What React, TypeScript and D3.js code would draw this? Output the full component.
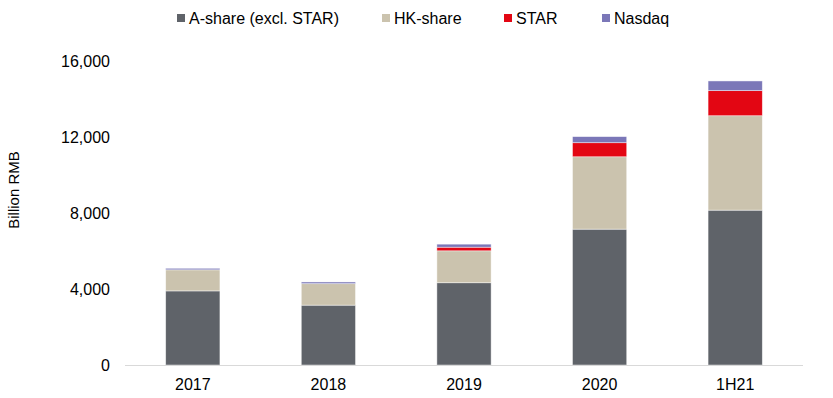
import React, { useEffect, useRef } from 'react';
import * as d3 from 'd3';

const categories = ['2017', '2018', '2019', '2020', '1H21'];
const seriesNames = ['A-share (excl. STAR)', 'HK-share', 'STAR', 'Nasdaq'];
const aShare = [3900, 3150, 4330, 7150, 8150];
const hkShare = [1110, 1130, 1680, 3810, 4970];
const star = [0, 0, 190, 740, 1320];
const nasdaq = [80, 90, 160, 320, 510];
const yTicks = [0, 4000, 8000, 12000, 16000];
const colors = ['#5f6369', '#cbc3ae', '#e30613', '#7b77b8'];

const W = 833;
const H = 398;

const App = () => {
	const ref = useRef<SVGSVGElement>(null);

	useEffect(() => {
		const svg = d3.select(ref.current);
		svg.selectAll('*').remove();
		const font = 'Arial, "Liberation Sans", sans-serif';

		const rows = categories.map((c, i) => ({
			cat: c,
			[seriesNames[0]]: aShare[i],
			[seriesNames[1]]: hkShare[i],
			[seriesNames[2]]: star[i],
			[seriesNames[3]]: nasdaq[i],
		}));
		const stacked = d3.stack<any>().keys(seriesNames)(rows);

		const x = d3.scaleBand().domain(categories).range([125, 803]).paddingInner(0.6).paddingOuter(0.3);
		const y = d3.scaleLinear().domain([0, 16000]).range([365, 61]);

		// y tick labels
		svg
			.append('g')
			.selectAll('text')
			.data(yTicks)
			.enter()
			.append('text')
			.attr('x', 110)
			.attr('y', (d) => y(d))
			.attr('dy', '0.35em')
			.attr('text-anchor', 'end')
			.attr('font-family', font)
			.attr('font-size', 16)
			.attr('fill', '#000')
			.text((d) => d3.format(',')(d));

		svg
			.append('text')
			.attr('transform', 'translate(19,190) rotate(-90)')
			.attr('text-anchor', 'middle')
			.attr('font-family', font)
			.attr('font-size', 15)
			.attr('fill', '#000')
			.text('Billion RMB');

		// bars
		svg
			.append('g')
			.selectAll('g')
			.data(stacked)
			.enter()
			.append('g')
			.attr('fill', (d, i) => colors[i])
			.selectAll('rect')
			.data((d) => d.filter((s) => s[1] - s[0] > 0))
			.enter()
			.append('rect')
			.attr('x', (d: any) => x(d.data.cat)!)
			.attr('width', x.bandwidth())
			.attr('y', (d) => y(d[1]))
			.attr('height', (d) => y(d[0]) - y(d[1]))
			.attr('stroke', '#ffffff')
			.attr('stroke-opacity', 0.6)
			.attr('stroke-width', 0.75);

		// x axis line
		svg
			.append('line')
			.attr('x1', 125)
			.attr('x2', 803)
			.attr('y1', 365.5)
			.attr('y2', 365.5)
			.attr('stroke', '#d9d9d9')
			.attr('stroke-width', 1);

		svg
			.append('g')
			.selectAll('text')
			.data(categories)
			.enter()
			.append('text')
			.attr('x', (d) => x(d)! + x.bandwidth() / 2)
			.attr('y', 390)
			.attr('text-anchor', 'middle')
			.attr('font-family', font)
			.attr('font-size', 16)
			.attr('fill', '#000')
			.text((d) => d);

		// legend
		const legendX = [177, 382, 504, 602];
		const lg = svg
			.append('g')
			.selectAll('g')
			.data(seriesNames)
			.enter()
			.append('g')
			.attr('transform', (d, i) => `translate(${legendX[i]},0)`);
		lg.append('rect')
			.attr('x', 0)
			.attr('y', 14)
			.attr('width', 8)
			.attr('height', 8)
			.attr('fill', (d, i) => colors[i]);
		lg.append('text')
			.attr('x', 12)
			.attr('y', 18)
			.attr('dy', '0.35em')
			.attr('font-family', font)
			.attr('font-size', 16)
			.attr('fill', '#000')
			.text((d) => d);
	}, []);

	return (
		<svg
			ref={ref}
			width={W}
			height={H}
			style={{ position: 'absolute', left: 0, top: 0, background: '#fff' }}
		></svg>
	);
};

export default App;
